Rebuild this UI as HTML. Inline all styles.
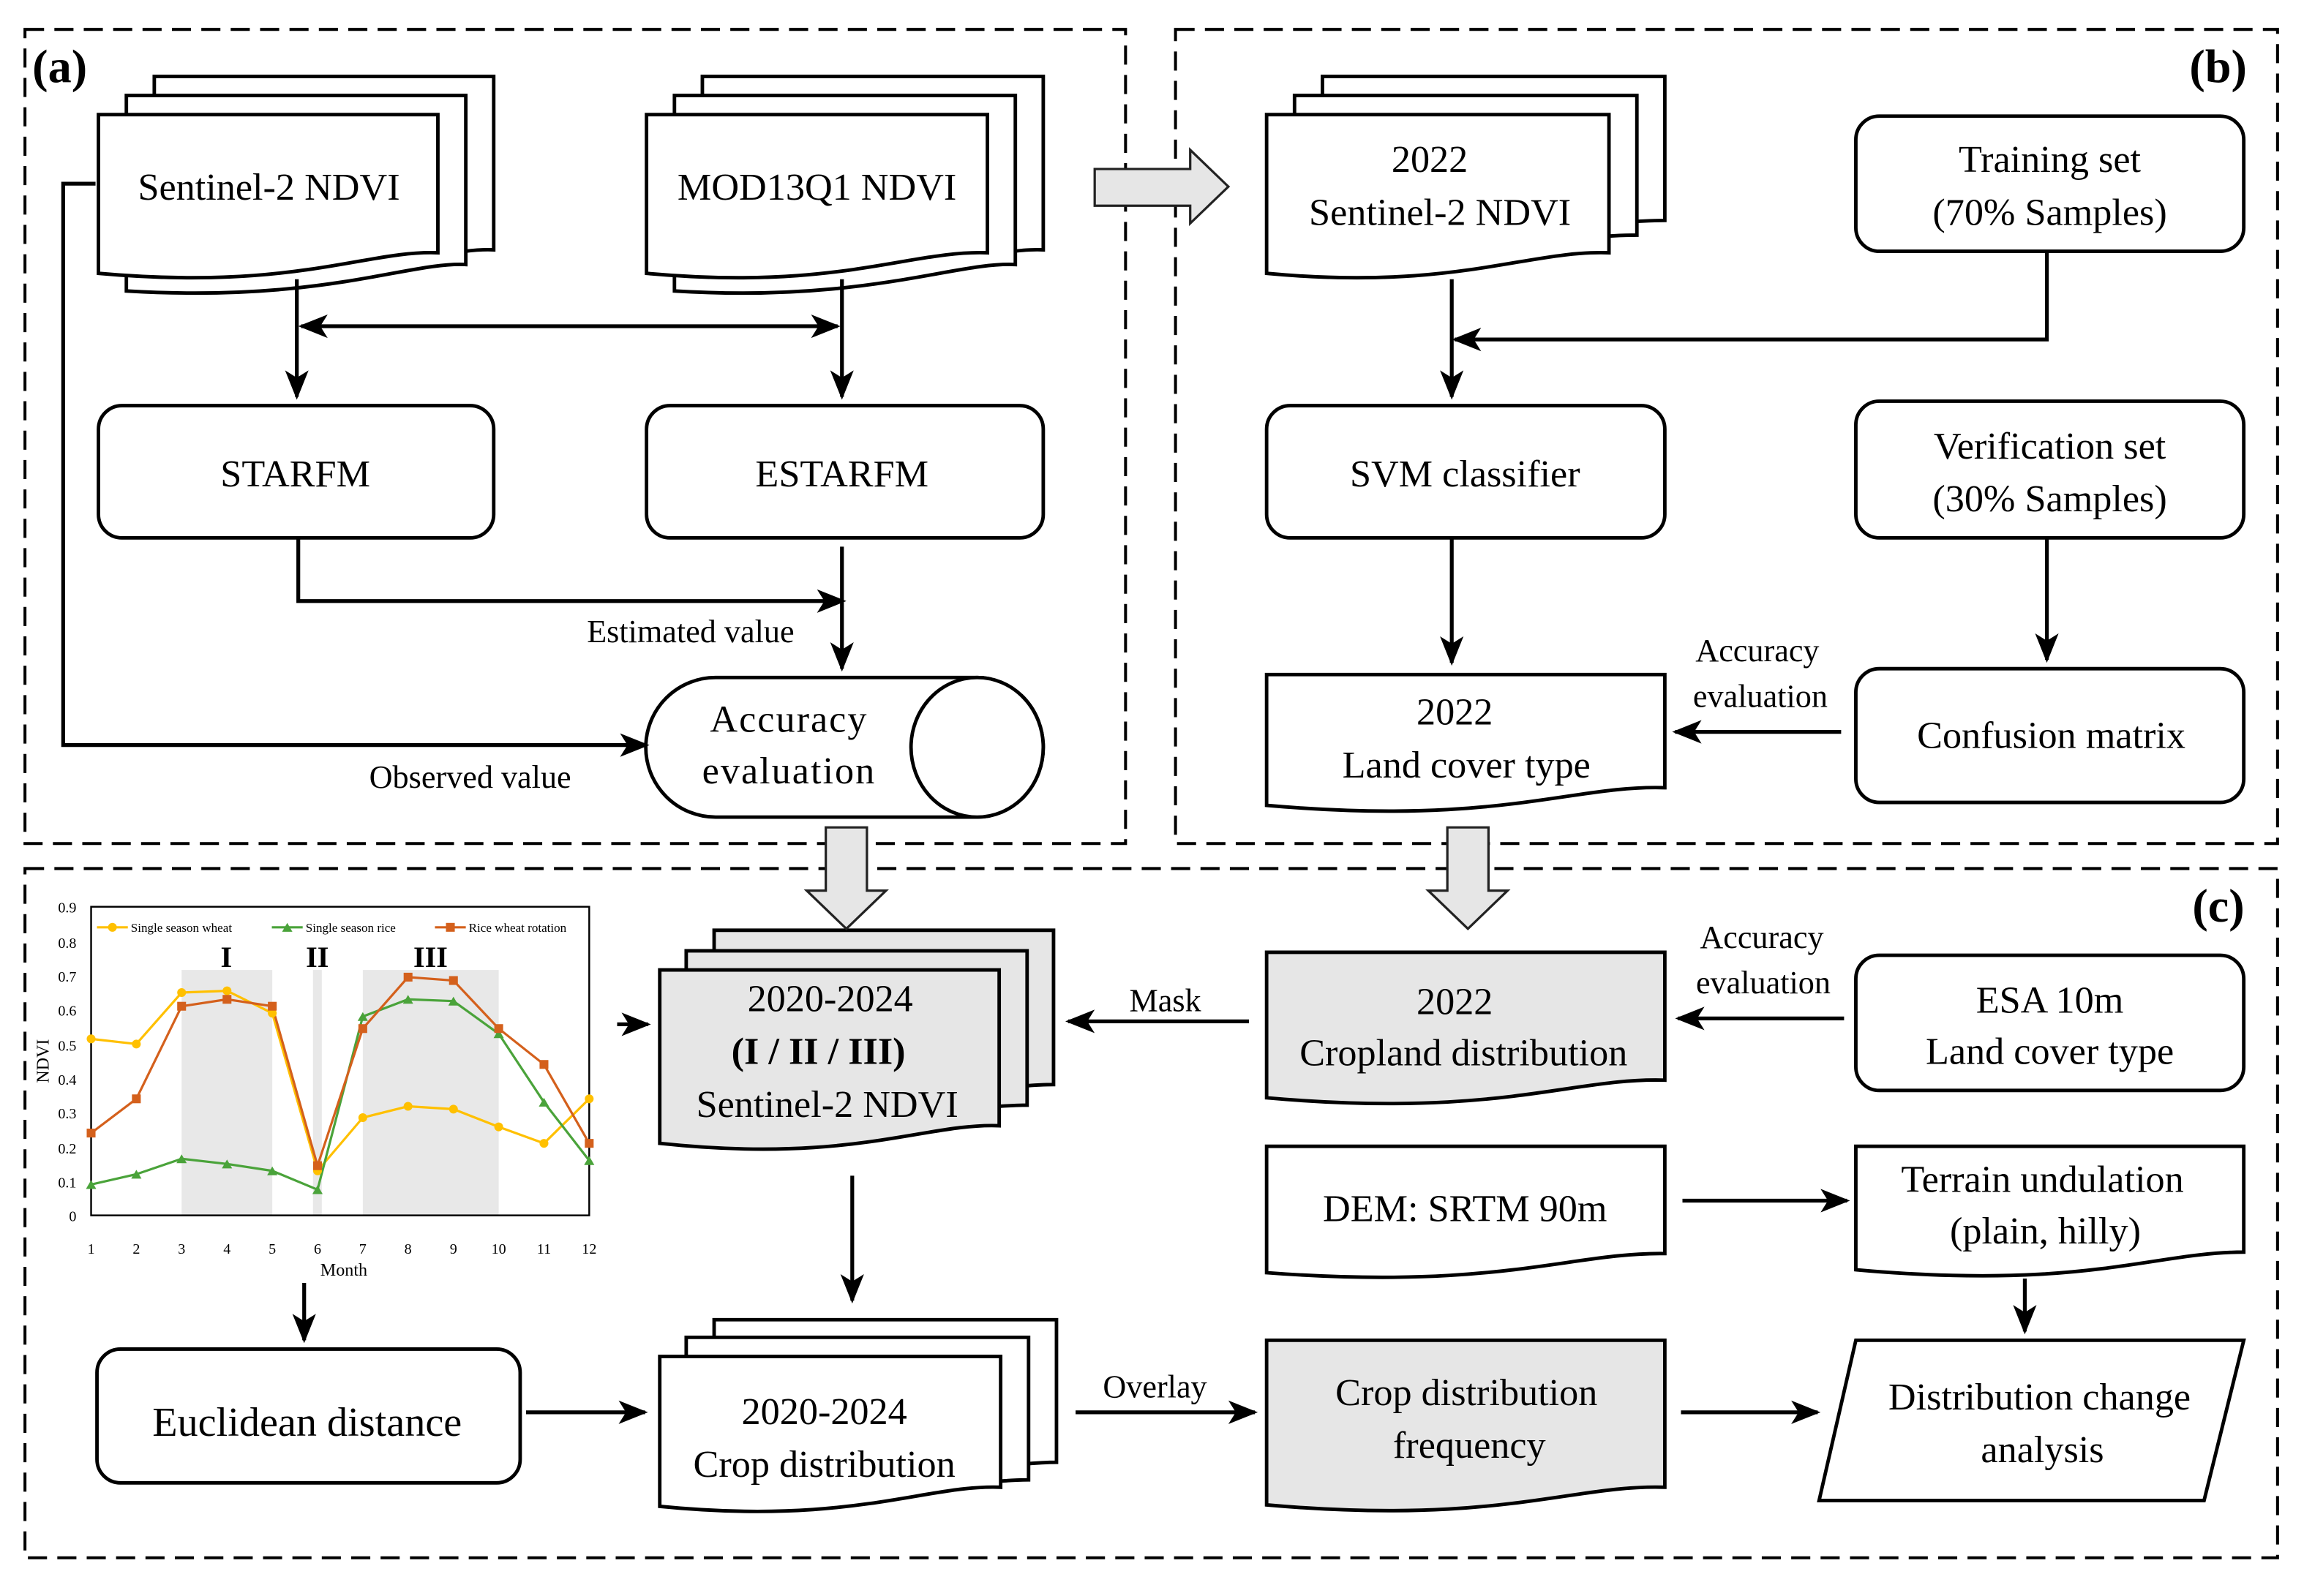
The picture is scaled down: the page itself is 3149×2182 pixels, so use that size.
<!DOCTYPE html>
<html><head><meta charset="utf-8"><style>html,body{margin:0;padding:0;background:#fff}svg{display:block}</style></head>
<body>
<svg xmlns="http://www.w3.org/2000/svg" width="3149" height="2182" viewBox="0 0 1568 1086" preserveAspectRatio="none" font-family="'Liberation Serif', serif">
<defs>
<marker id="ah" markerUnits="userSpaceOnUse" markerWidth="20" markerHeight="20" viewBox="0 0 20 20" refX="18" refY="10" orient="auto"><path d="M0,2 L20,10 L0,18 L5,10 Z" fill="#000"/></marker>
<marker id="as" markerUnits="userSpaceOnUse" markerWidth="20" markerHeight="20" viewBox="0 0 20 20" refX="2" refY="10" orient="auto"><path d="M20,2 L0,10 L20,18 L15,10 Z" fill="#000"/></marker>
</defs>
<rect width="1568" height="1086" fill="#fff"/>
<g fill="none" stroke="#000" stroke-width="2" stroke-dasharray="13 7">
<rect x="17" y="20" width="749" height="554"/>
<rect x="800" y="20" width="750" height="554"/>
<rect x="17" y="591" width="1533" height="469"/>
</g>
<g font-weight="bold" font-size="32">
<text x="22" y="56">(a)</text><text x="1490" y="56">(b)</text><text x="1492" y="627">(c)</text>
</g>

<g stroke="#000" stroke-width="2.4" fill="#fff">
<!-- Sentinel stack (a) -->
<path d="M105,52 H336 V170 C297,168 240,196 105,186 Z"/>
<path d="M86,65 H317 V180 C278,178 220,206 86,198 Z"/>
<path d="M67,78 H298 V172 C250,170 200,198 67,186 Z"/>
<!-- MOD stack -->
<path d="M478,52 H710 V170 C670,168 610,196 478,186 Z"/>
<path d="M459,65 H691 V180 C650,178 590,206 459,198 Z"/>
<path d="M440,78 H672 V172 C620,170 570,198 440,186 Z"/>
<!-- b stack -->
<path d="M900,52 H1133 V150 C1093,150 1040,160 900,170 Z"/>
<path d="M881,65 H1114 V160 C1074,160 1020,170 881,182 Z"/>
<path d="M862,78 H1095 V172 C1040,170 990,198 862,186 Z"/>
<rect x="67" y="276" width="269" height="90" rx="16"/>
<rect x="440" y="276" width="270" height="90" rx="16"/>
<rect x="1263" y="79" width="264" height="92" rx="16"/>
<rect x="862" y="276" width="271" height="90" rx="16"/>
<rect x="1263" y="273" width="264" height="93" rx="16"/>
<rect x="1263" y="455" width="264" height="91" rx="16"/>
<path d="M862,459 H1133 V536 C1070,534 1020,562 862,548 Z"/>
<!-- cylinder -->
<path d="M487,461 H665 A45,47.5 0 0 1 665,556 H487 A47.5,47.5 0 0 1 487,461 Z"/>
<ellipse cx="665" cy="508.5" rx="45" ry="47.5"/>
<rect x="1263" y="650" width="264" height="92" rx="16"/>
<path d="M862,780 H1133 V853 C1070,852 1020,878 862,866 Z"/>
<path d="M1263,780 H1527 V852 C1465,852 1420,878 1263,864 Z"/>
<rect x="66" y="918" width="288" height="91" rx="16"/>
<!-- crop dist stack -->
<path d="M486,898 H719 V995 C690,995 700,1000 486,1005 Z"/>
<path d="M467,910 H700 V1007 C670,1007 680,1012 467,1017 Z"/>
<path d="M449,923 H681 V1012 C630,1010 580,1038 449,1025 Z"/>
<path d="M1263,912 H1527 L1500,1021 H1238 Z"/>
</g>
<g stroke="#000" stroke-width="2.4" fill="#e6e6e6">
<path d="M486,633 H717 V738 C690,738 700,742 486,748 Z"/>
<path d="M467,647 H699 V752 C670,752 680,756 467,762 Z"/>
<path d="M449,660 H680 V766 C630,764 580,792 449,778 Z"/>
<path d="M862,648 H1133 V735 C1070,733 1020,761 862,747 Z"/>
<path d="M862,912 H1133 V1012 C1070,1010 1020,1038 862,1024 Z"/>
</g>
<!-- hollow arrows -->
<g stroke="#222" stroke-width="1.6" fill="#e6e6e6">
<path d="M745,115 H810 V102 L836,127 L810,152 V140 H745 Z"/>
<path d="M562,563 H590 V606 H603 L576,632 L549,606 H562 Z"/>
<path d="M985,563 H1013 V606 H1026 L999,632 L972,606 H985 Z"/>
</g>

<!-- connectors -->
<g stroke="#000" stroke-width="2.6" fill="none">
<line x1="202" y1="190" x2="202" y2="270" marker-end="url(#ah)"/>
<line x1="573" y1="190" x2="573" y2="270" marker-end="url(#ah)"/>
<line x1="205" y1="222" x2="570" y2="222" marker-start="url(#as)" marker-end="url(#ah)"/>
<polyline points="203,366 203,409 574,409" marker-end="url(#ah)"/>
<line x1="573" y1="372" x2="573" y2="455" marker-end="url(#ah)"/>
<polyline points="65,125 43,125 43,507 440,507" marker-end="url(#ah)"/>
<polyline points="1393,171 1393,231 990,231" marker-end="url(#ah)"/>
<line x1="988" y1="190" x2="988" y2="270" marker-end="url(#ah)"/>
<line x1="988" y1="366" x2="988" y2="451" marker-end="url(#ah)"/>
<line x1="1393" y1="366" x2="1393" y2="449" marker-end="url(#ah)"/>
<line x1="1253" y1="498" x2="1140" y2="498" marker-end="url(#ah)"/>
<line x1="420" y1="697" x2="441" y2="697" marker-end="url(#ah)"/>
<line x1="850" y1="695" x2="727" y2="695" marker-end="url(#ah)"/>
<line x1="1255" y1="693" x2="1142" y2="693" marker-end="url(#ah)"/>
<line x1="1145" y1="817" x2="1257" y2="817" marker-end="url(#ah)"/>
<line x1="1378" y1="870" x2="1378" y2="906" marker-end="url(#ah)"/>
<line x1="207" y1="873" x2="207" y2="912" marker-end="url(#ah)"/>
<line x1="580" y1="800" x2="580" y2="885" marker-end="url(#ah)"/>
<line x1="358" y1="961" x2="439" y2="961" marker-end="url(#ah)"/>
<line x1="732" y1="961" x2="854" y2="961" marker-end="url(#ah)"/>
<line x1="1144" y1="961" x2="1237" y2="961" marker-end="url(#ah)"/>
</g>

<!-- texts -->
<g font-size="26" text-anchor="middle" fill="#000">
<text x="183" y="136">Sentinel-2 NDVI</text>
<text x="556" y="136">MOD13Q1  NDVI</text>
<text x="201" y="331">STARFM</text>
<text x="573" y="331">ESTARFM</text>
<text x="537" y="498" letter-spacing="1">Accuracy</text>
<text x="537" y="533" letter-spacing="1">evaluation</text>
<text x="973" y="117">2022</text>
<text x="980" y="153">Sentinel-2 NDVI</text>
<text x="1395" y="117">Training set</text>
<text x="1395" y="153">(70% Samples)</text>
<text x="997" y="331">SVM classifier</text>
<text x="1395" y="312">Verification set</text>
<text x="1395" y="348">(30% Samples)</text>
<text x="990" y="493">2022</text>
<text x="998" y="529">Land cover type</text>
<text x="1396" y="509">Confusion matrix</text>
<text x="565" y="688">2020-2024</text>
<text x="557" y="724" font-weight="bold">(I / II / III)</text>
<text x="563" y="760">Sentinel-2 NDVI</text>
<text x="990" y="690">2022</text>
<text x="996" y="725">Cropland distribution</text>
<text x="1395" y="689">ESA 10m</text>
<text x="1395" y="724">Land cover type</text>
<text x="997" y="831">DEM: SRTM 90m</text>
<text x="1390" y="811">Terrain undulation</text>
<text x="1392" y="846">(plain, hilly)</text>
<text x="209" y="977" font-size="28">Euclidean distance</text>
<text x="561" y="969">2020-2024</text>
<text x="561" y="1005">Crop distribution</text>
<text x="998" y="956">Crop distribution</text>
<text x="1000" y="992">frequency</text>
<text x="1388" y="959">Distribution change</text>
<text x="1390" y="995">analysis</text>
</g>
<g font-size="22" text-anchor="middle">
<text x="470" y="437">Estimated value</text>
<text x="320" y="536">Observed value</text>
<text x="1196" y="450">Accuracy</text>
<text x="1198" y="481">evaluation</text>
<text x="1199" y="645">Accuracy</text>
<text x="1200" y="676">evaluation</text>
<text x="793" y="688">Mask</text>
<text x="786" y="951">Overlay</text>
</g>

<!-- chart -->
<g>
<rect x="123.6" y="660" width="61.7" height="167" fill="#e8e8e8"/>
<rect x="213" y="660" width="6" height="167" fill="#e8e8e8"/>
<rect x="246.9" y="660" width="92.5" height="167" fill="#e8e8e8"/>
<rect x="62" y="617" width="339" height="210" fill="none" stroke="#000" stroke-width="1.2"/>
<g font-size="10" text-anchor="end">
<text x="52" y="831">0</text><text x="52" y="808">0.1</text><text x="52" y="785">0.2</text><text x="52" y="761">0.3</text><text x="52" y="738">0.4</text><text x="52" y="715">0.5</text><text x="52" y="691">0.6</text><text x="52" y="668">0.7</text><text x="52" y="645">0.8</text><text x="52" y="621">0.9</text>
</g>
<g font-size="10" text-anchor="middle">
<text x="62" y="853">1</text><text x="92.8" y="853">2</text><text x="123.6" y="853">3</text><text x="154.5" y="853">4</text><text x="185.3" y="853">5</text><text x="216.1" y="853">6</text><text x="246.9" y="853">7</text><text x="277.7" y="853">8</text><text x="308.6" y="853">9</text><text x="339.4" y="853">10</text><text x="370.2" y="853">11</text><text x="401" y="853">12</text>
<text x="234" y="868" font-size="12">Month</text>
</g>
<text x="33" y="722" font-size="12" text-anchor="middle" transform="rotate(-90 33 722)">NDVI</text>
<g font-size="20" font-weight="bold" text-anchor="middle"><text x="154" y="658">I</text><text x="216" y="658">II</text><text x="293" y="658">III</text></g>
<polyline fill="none" stroke="#ffc000" stroke-width="1.6" points="62,706.9 92.8,710.4 123.6,675.4 154.5,674.2 185.3,689.4 216.1,796.7 246.9,760.5 277.7,752.8 308.6,754.7 339.4,766.8 370.2,778 401,747.7"/>
<polyline fill="none" stroke="#4aa33a" stroke-width="1.6" points="62,806 92.8,799 123.6,788.5 154.5,792 185.3,796.7 216.1,809.5 246.9,691.7 277.7,680 308.6,681.2 339.4,703.4 370.2,750 401,789.7"/>
<polyline fill="none" stroke="#d4601c" stroke-width="1.6" points="62,771 92.8,747.7 123.6,684.7 154.5,680 185.3,684.7 216.1,793.2 246.9,699.9 277.7,664.9 308.6,667.2 339.4,699.9 370.2,724.3 401,778"/>
<g fill="#ffc000">
<circle cx="62" cy="706.9" r="3"/><circle cx="92.8" cy="710.4" r="3"/><circle cx="123.6" cy="675.4" r="3"/><circle cx="154.5" cy="674.2" r="3"/><circle cx="185.3" cy="689.4" r="3"/><circle cx="216.1" cy="796.7" r="3"/><circle cx="246.9" cy="760.5" r="3"/><circle cx="277.7" cy="752.8" r="3"/><circle cx="308.6" cy="754.7" r="3"/><circle cx="339.4" cy="766.8" r="3"/><circle cx="370.2" cy="778" r="3"/><circle cx="401" cy="747.7" r="3"/>
</g>
<g fill="#4aa33a">
<path d="M62,803 l3.5,6 h-7z M92.8,796 l3.5,6 h-7z M123.6,785.5 l3.5,6 h-7z M154.5,789 l3.5,6 h-7z M185.3,793.7 l3.5,6 h-7z M216.1,806.5 l3.5,6 h-7z M246.9,688.7 l3.5,6 h-7z M277.7,677 l3.5,6 h-7z M308.6,678.2 l3.5,6 h-7z M339.4,700.4 l3.5,6 h-7z M370.2,747 l3.5,6 h-7z M401,786.7 l3.5,6 h-7z"/>
</g>
<g fill="#d4601c">
<rect x="59" y="768" width="6" height="6"/><rect x="89.8" y="744.7" width="6" height="6"/><rect x="120.6" y="681.7" width="6" height="6"/><rect x="151.5" y="677" width="6" height="6"/><rect x="182.3" y="681.7" width="6" height="6"/><rect x="213.1" y="790.2" width="6" height="6"/><rect x="243.9" y="696.9" width="6" height="6"/><rect x="274.7" y="661.9" width="6" height="6"/><rect x="305.6" y="664.2" width="6" height="6"/><rect x="336.4" y="696.9" width="6" height="6"/><rect x="367.2" y="721.3" width="6" height="6"/><rect x="398" y="775" width="6" height="6"/>
</g>
<g font-size="8.5">
<line x1="66" y1="631" x2="87" y2="631" stroke="#ffc000" stroke-width="1.6"/><circle cx="76.5" cy="631" r="3" fill="#ffc000"/><text x="89" y="634">Single season wheat</text>
<line x1="185" y1="631" x2="206" y2="631" stroke="#4aa33a" stroke-width="1.6"/><path d="M195.5,628 l3.5,6 h-7z" fill="#4aa33a"/><text x="208" y="634">Single season rice</text>
<line x1="296" y1="631" x2="317" y2="631" stroke="#d4601c" stroke-width="1.6"/><rect x="303.5" y="628" width="6" height="6" fill="#d4601c"/><text x="319" y="634">Rice wheat rotation</text>
</g>
</g>
</svg>
</body></html>
